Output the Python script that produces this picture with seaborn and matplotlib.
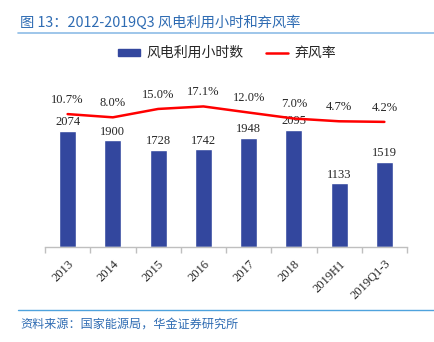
import numpy as np
import pandas as pd
import matplotlib
matplotlib.use("Agg")
import matplotlib.pyplot as plt
import seaborn as sns
from matplotlib.lines import Line2D
from matplotlib.patches import Patch

categories = ["2013", "2014", "2015", "2016", "2017", "2018", "2019H1", "2019Q1-3"]
hours = [2074, 1900, 1728, 1742, 1948, 2095, 1133, 1519]
curtail = [10.7, 8.0, 15.0, 17.1, 12.0, 7.0, 4.7, 4.2]

sns.set_theme(style="white")
plt.rcParams['font.family'] = ['Noto Sans CJK SC', 'DejaVu Sans']

BAR = "#33479E"
RED = "#FF0000"
BLUE_T = "#2F6CB3"

fig = plt.figure(figsize=(4.34, 3.42), dpi=100)
ax = fig.add_axes([45/434, 1-246.7/342, (407-45)/434, (246.7-79)/342])

df = pd.DataFrame({"cat": categories, "hours": hours, "rate": curtail,
                   "pos": np.arange(len(categories))})
sns.barplot(data=df, x="cat", y="hours", color=BAR, saturation=1, width=0.38, ax=ax)
ax.set_ylim(0, 3000)
ax.set_xlim(-0.5, len(categories) - 0.5)
ax.set_yticks([])
ax.set_xlabel("")
ax.set_ylabel("")
for s in ["top", "left", "right"]:
    ax.spines[s].set_visible(False)
ax.spines["bottom"].set_color("#BFBFBF")
ax.spines["bottom"].set_linewidth(1)
ax.set_xticks(np.arange(len(categories)))
ax.set_xticklabels(categories, rotation=45, ha="right", rotation_mode="anchor",
                   family="Liberation Serif", fontsize=9)
ax.set_xticks(np.arange(-0.5, len(categories)), minor=True)
ax.tick_params(axis="x", which="major", length=0, pad=8)
ax.tick_params(axis="x", which="minor", length=4, color="#BFBFBF", width=1, bottom=True)
for p, v in zip(range(len(hours)), hours):
    ax.annotate(f"{v}", (p, v), xytext=(0, 2), textcoords="offset points",
                ha="center", va="bottom", family="Liberation Serif", fontsize=9)

ax2 = ax.twinx()
sns.lineplot(data=df, x="pos", y="rate", color=RED, linewidth=1.8, ax=ax2)
ax2.set_ylim(-100, 40)
ax2.set_yticks([])
ax2.set_ylabel("")
ax2.set_xlabel("")
for s in ["top", "left", "right", "bottom"]:
    ax2.spines[s].set_visible(False)
for p, v in zip(range(len(curtail)), curtail):
    ax2.annotate(f"{v:.1f}%", (p, v), xytext=(0, 6), textcoords="offset points",
                 ha="center", va="bottom", family="Liberation Serif", fontsize=9)
ax2.set_xlim(-0.5, len(categories) - 0.5)

handles = [Patch(facecolor=BAR, edgecolor=BAR), Line2D([0], [0], color=RED, lw=1.8)]
fig.legend(handles, ["风电利用小时数", "弃风率"], loc="center", bbox_to_anchor=(227/434, 1-53/342),
           ncol=2, frameon=False, fontsize=10, handlelength=1.6, handleheight=0.4,
           columnspacing=1.6, handletextpad=0.45)

fig.text(20/434, 1-23/342, "图 13：2012-2019Q3 风电利用小时和弃风率", color=BLUE_T,
         fontsize=10.3, ha="left", va="center")
fig.add_artist(Line2D([18/434, 1], [1-33/342, 1-33/342], color="#8DBCE6", lw=1.2))
fig.add_artist(Line2D([18/434, 1], [1-310/342, 1-310/342], color="#4FA3DD", lw=1))
fig.text(20/434, 1-324/342, "资料来源：国家能源局，华金证券研究所", color=BLUE_T,
         fontsize=8.7, ha="left", va="center", style="italic")

fig.savefig("out.png", dpi=100)
